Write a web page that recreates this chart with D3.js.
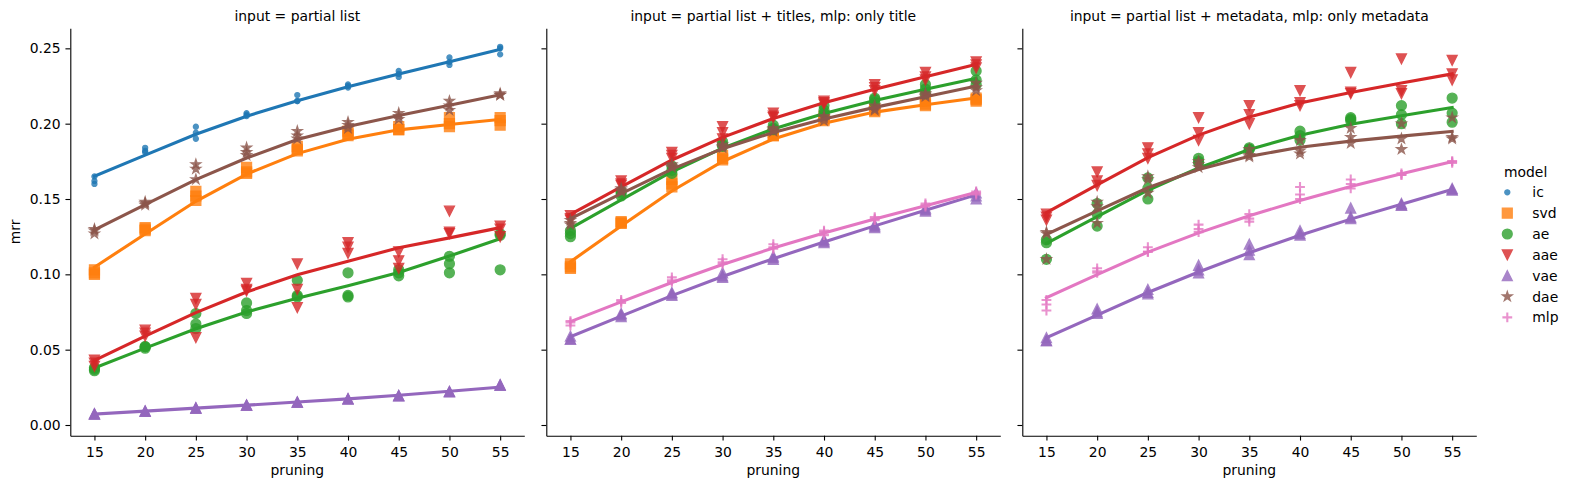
<!DOCTYPE html>
<html>
<head>
<meta charset="utf-8">
<script src="https://cdn.jsdelivr.net/npm/d3@7"></script>
<style>
  body { margin: 0; background: #fff; }
  svg { display: block; font-family: "DejaVu Sans", sans-serif; }
</style>
</head>
<body>
<svg id="chart" width="1570" height="489"></svg>
<script>
// x values and categories
const pruning = [15, 20, 25, 30, 35, 40, 45, 50, 55];
const models = ["ic", "svd", "ae", "aae", "vae", "dae", "mlp"];
const modelColors = ["#1f77b4", "#ff7f0e", "#2ca02c", "#d62728", "#9467bd", "#8c564b", "#e377c2"];
const modelMarkers = [".", "s", "o", "v", "^", "*", "+"];
const panelTitles = [
  "input = partial list",
  "input = partial list + titles, mlp: only title",
  "input = partial list + metadata, mlp: only metadata"
];
const yTicks = [0.00, 0.05, 0.10, 0.15, 0.20, 0.25];

// panel 1 : input = partial list   (one row per pruning value, several runs)
const p1_ic = [[0.165,0.162,0.160],[0.184,0.182,0.181],[0.198,0.194,0.190],[0.207,0.206,0.205],[0.219,0.215,0.215],[0.226,0.225,0.224],[0.235,0.233,0.231],[0.244,0.241,0.239],[0.251,0.250,0.246]];
const p1_svd = [[0.103,0.101,0.100],[0.131,0.130,0.129],[0.155,0.152,0.149],[0.171,0.168,0.167],[0.185,0.183,0.182],[0.195,0.193,0.192],[0.198,0.196,0.196],[0.204,0.200,0.198],[0.204,0.202,0.199]];
const p1_ae = [[0.038,0.036,0.037],[0.052,0.051,0.052],[0.074,0.067,0.064],[0.081,0.076,0.074],[0.096,0.086,0.085],[0.101,0.086,0.085],[0.103,0.101,0.099],[0.112,0.107,0.101],[0.127,0.126,0.103]];
const p1_aae = [[0.043,0.041,0.039],[0.063,0.061,0.059],[0.084,0.080,0.058],[0.094,0.090,0.089],[0.107,0.090,0.078],[0.121,0.118,0.114],[0.115,0.109,0.104],[0.142,0.128,0.127],[0.132,0.130,0.125]];
const p1_vae = [[0.0075,0.0073,0.0071],[0.0093,0.0091,0.0090],[0.0114,0.0112,0.0111],[0.0133,0.0131,0.0130],[0.0153,0.0151,0.0150],[0.0175,0.0173,0.0172],[0.0196,0.0194,0.0193],[0.0223,0.0221,0.0220],[0.0267,0.0265,0.0263]];
const p1_dae = [[0.130,0.129,0.127],[0.148,0.147,0.146],[0.173,0.170,0.163],[0.184,0.181,0.179],[0.195,0.192,0.190],[0.201,0.199,0.197],[0.207,0.205,0.203],[0.215,0.212,0.209],[0.220,0.219,0.219]];

// panel 2 : input = partial list + titles
const p2_svd = [[0.107,0.105,0.104],[0.135,0.134,0.134],[0.163,0.160,0.158],[0.179,0.177,0.176],[0.194,0.192,0.192],[0.205,0.203,0.202],[0.210,0.209,0.208],[0.215,0.213,0.212],[0.217,0.216,0.215]];
const p2_ae = [[0.129,0.127,0.125],[0.155,0.154,0.152],[0.172,0.169,0.167],[0.188,0.186,0.185],[0.199,0.197,0.196],[0.212,0.209,0.207],[0.217,0.216,0.214],[0.226,0.223,0.220],[0.235,0.229,0.226]];
const p2_aae = [[0.139,0.137,0.136],[0.162,0.160,0.159],[0.181,0.179,0.177],[0.198,0.194,0.190],[0.207,0.205,0.204],[0.215,0.214,0.213],[0.226,0.224,0.222],[0.234,0.231,0.229],[0.241,0.239,0.237]];
const p2_vae = [[0.059,0.057,0.057],[0.074,0.073,0.072],[0.088,0.087,0.086],[0.101,0.099,0.098],[0.112,0.111,0.110],[0.123,0.122,0.121],[0.133,0.132,0.131],[0.144,0.143,0.142],[0.154,0.152,0.150]];
const p2_dae = [[0.136,0.134,0.133],[0.157,0.156,0.155],[0.173,0.172,0.171],[0.186,0.185,0.184],[0.197,0.196,0.195],[0.205,0.204,0.202],[0.212,0.210,0.209],[0.220,0.219,0.218],[0.227,0.224,0.222]];
const p2_mlp = [[0.069,0.068,0.066],[0.083,0.082,0.081],[0.098,0.096,0.095],[0.110,0.108,0.107],[0.120,0.118,0.117],[0.129,0.128,0.126],[0.138,0.137,0.136],[0.147,0.146,0.145],[0.155,0.154,0.153]];

// panel 3 : input = partial list + metadata
const p3_ae = [[0.123,0.121,0.110],[0.147,0.140,0.132],[0.164,0.157,0.150],[0.177,0.175,0.174],[0.184,0.183,0.183],[0.195,0.192,0.189],[0.204,0.203,0.202],[0.212,0.206,0.200],[0.217,0.207,0.201]];
const p3_aae = [[0.140,0.138,0.136],[0.168,0.162,0.159],[0.184,0.180,0.177],[0.204,0.194,0.189],[0.212,0.206,0.200],[0.222,0.214,0.212],[0.234,0.221,0.220],[0.243,0.222,0.220],[0.242,0.233,0.229]];
const p3_vae = [[0.058,0.056,0.056],[0.077,0.075,0.074],[0.090,0.088,0.087],[0.106,0.103,0.101],[0.120,0.116,0.113],[0.129,0.127,0.126],[0.144,0.138,0.137],[0.147,0.146,0.146],[0.157,0.156,0.156]];
const p3_dae = [[0.128,0.127,0.110],[0.148,0.145,0.134],[0.165,0.163,0.154],[0.175,0.173,0.171],[0.183,0.179,0.178],[0.189,0.182,0.180],[0.197,0.191,0.187],[0.200,0.190,0.183],[0.204,0.191,0.190]];
const p3_mlp = [[0.083,0.080,0.076],[0.104,0.102,0.101],[0.118,0.115,0.115],[0.133,0.130,0.128],[0.140,0.137,0.135],[0.158,0.153,0.150],[0.163,0.160,0.157],[0.167,0.166,0.166],[0.175,0.175,0.174]];

const panels = [
  { ic: p1_ic, svd: p1_svd, ae: p1_ae, aae: p1_aae, vae: p1_vae, dae: p1_dae },
  { svd: p2_svd, ae: p2_ae, aae: p2_aae, vae: p2_vae, dae: p2_dae, mlp: p2_mlp },
  { ae: p3_ae, aae: p3_aae, vae: p3_vae, dae: p3_dae, mlp: p3_mlp }
];

// layout
const panelLeft = [70.3, 546.3, 1022.3];
const panelW = 454;
const plotTop = 28.3, plotBottom = 435.7;
const fontPx = 13.9;
const tickLen = 4.86;

const x = d3.scaleLinear().domain([12.62, 57.38]).range([0, panelW]);
const y = d3.scaleLinear().domain([-0.0071, 0.2633]).range([plotBottom, plotTop]);

// matplotlib-like marker shapes, half size H
const H = 4.91;
function circ(r) {
  const p = d3.path();
  p.arc(0, 0, r, 0, 2 * Math.PI);
  p.closePath();
  return p.toString();
}
function markerPath(m) {
  if (m === "o") return circ(H);
  if (m === ".") return circ(H / 2);
  if (m === "s") return `M${-H},${-H}H${H}V${H}H${-H}Z`;
  if (m === "v") return `M0,${H}L${-H},${-H}L${H},${-H}Z`;
  if (m === "^") return `M0,${-H}L${-H},${H}L${H},${H}Z`;
  if (m === "*") {
    const pts = [];
    for (let i = 0; i < 10; i++) {
      const r = i % 2 === 0 ? H : H * 0.381966;
      const a = Math.PI * i / 5;
      pts.push([r * Math.sin(a), -r * Math.cos(a)]);
    }
    return "M" + pts.map(p => p.join(",")).join("L") + "Z";
  }
  if (m === "+") return `M${-H},0H${H}M0,${-H}V${H}`;
}
function drawMarker(sel, m, color) {
  sel.append("path")
    .attr("d", markerPath(m))
    .attr("fill", m === "+" ? "none" : color)
    .attr("stroke", color)
    .attr("stroke-width", m === "+" ? 2.08 : 1.39)
    .attr("opacity", 0.8);
}

// lowess smoother (frac 2/3, 3 robust iterations), as regplot(lowess=True)
function lowess(pts, frac = 2 / 3, iters = 3) {
  const s = pts.slice().sort((a, b) => a[0] - b[0]);
  const xs = s.map(d => d[0]), ys = s.map(d => d[1]);
  const n = xs.length;
  const k = Math.floor(frac * n + 1e-10);
  let rw = new Array(n).fill(1);
  let fit = new Array(n).fill(0);
  for (let it = 0; it <= iters; it++) {
    let left = 0, right = k;
    let i = 0;
    while (i < n) {
      const xv = xs[i];
      while (right < n && xv > (xs[left] + xs[right]) / 2) { left++; right++; }
      const radius = Math.max(xv - xs[left], xs[right - 1] - xv);
      const w = [];
      let sw = 0, nz = 0;
      for (let j = left; j < right; j++) {
        const d = Math.abs(xs[j] - xv) / radius;
        const t = 1 - d * d * d;
        const wj = t * t * t * rw[j];
        w.push(wj); sw += wj; if (wj !== 0) nz++;
      }
      let yf;
      if (sw <= 0 || nz === 1) {
        yf = ys[i];
      } else {
        let mx = 0;
        for (let j = left; j < right; j++) mx += (w[j - left] / sw) * xs[j];
        let sq = 0;
        for (let j = left; j < right; j++) sq += (w[j - left] / sw) * (xs[j] - mx) ** 2;
        yf = 0;
        for (let j = left; j < right; j++) {
          const wn = w[j - left] / sw;
          yf += wn * (1 + (xv - mx) * (xs[j] - mx) / sq) * ys[j];
        }
      }
      fit[i] = yf;
      let j = i + 1;
      while (j < n && xs[j] === xv) { fit[j] = yf; j++; }
      i = j;
    }
    if (it < iters) {
      const res = ys.map((v, j) => Math.abs(v - fit[j]));
      const med = d3.median(res) * 6;
      if (med === 0) break;
      rw = res.map(r => {
        const u = r / med;
        if (u < 0.001) return 1;
        if (u > 0.999) return 0;
        return (1 - u * u) ** 2;
      });
    }
  }
  return xs.map((xv, j) => [xv, fit[j]]);
}

const svg = d3.select("#chart");

panels.forEach((panel, pi) => {
  const g = svg.append("g").attr("transform", `translate(${panelLeft[pi]},0)`);

  // axes
  const xAxis = g.append("g")
    .attr("transform", `translate(0,${plotBottom})`)
    .call(d3.axisBottom(x).tickValues(pruning).tickSize(tickLen).tickSizeOuter(0).tickPadding(6.9));
  const yAxis = g.append("g")
    .call(d3.axisLeft(y).tickValues(yTicks).tickSize(tickLen).tickSizeOuter(0).tickPadding(4.86)
      .tickFormat(pi === 0 ? d3.format(".2f") : ""));
  [xAxis, yAxis].forEach(a => {
    a.select(".domain").attr("stroke", "#000").attr("stroke-width", 1.1);
    a.selectAll(".tick line").attr("stroke", "#000").attr("stroke-width", 1.1);
    a.selectAll(".tick text").attr("fill", "#000").attr("font-size", fontPx)
      .attr("font-family", "DejaVu Sans, sans-serif");
  });

  // points and smoothed lines, in hue order
  models.forEach((m, mi) => {
    const rows = panel[m];
    if (!rows) return;
    const color = modelColors[mi];
    const pts = [];
    rows.forEach((vals, xi) => vals.forEach(v => pts.push([pruning[xi], v])));

    const dots = g.append("g");
    pts.forEach(p => {
      const mk = dots.append("g").attr("transform", `translate(${x(p[0])},${y(p[1])})`);
      drawMarker(mk, modelMarkers[mi], color);
    });

    g.append("path")
      .datum(lowess(pts))
      .attr("fill", "none")
      .attr("stroke", color)
      .attr("stroke-width", 3.1)
      .attr("stroke-linecap", "square")
      .attr("d", d3.line().x(d => x(d[0])).y(d => y(d[1])));
  });

  // title and axis labels
  g.append("text")
    .attr("x", panelW / 2).attr("y", 21)
    .attr("text-anchor", "middle").attr("font-size", fontPx).attr("fill", "#000")
    .text(panelTitles[pi]);
  g.append("text")
    .attr("x", panelW / 2).attr("y", 475)
    .attr("text-anchor", "middle").attr("font-size", fontPx).attr("fill", "#000")
    .text("pruning");
});

svg.append("text")
  .attr("transform", `translate(20,${(plotTop + plotBottom) / 2}) rotate(-90)`)
  .attr("text-anchor", "middle").attr("font-size", fontPx).attr("fill", "#000")
  .text("mrr");

// legend
const leg = svg.append("g").attr("transform", "translate(1504,0)");
leg.append("text").attr("x", 0).attr("y", 176.5)
  .attr("font-size", fontPx).attr("fill", "#000").text("model");
models.forEach((m, mi) => {
  const cy = 192.3 + mi * 20.85;
  const mk = leg.append("g").attr("transform", `translate(3.3,${cy})`);
  drawMarker(mk, modelMarkers[mi], modelColors[mi]);
  leg.append("text").attr("x", 28.3).attr("y", cy).attr("dy", "0.36em")
    .attr("font-size", fontPx).attr("fill", "#000").text(m);
});
</script>
</body>
</html>
